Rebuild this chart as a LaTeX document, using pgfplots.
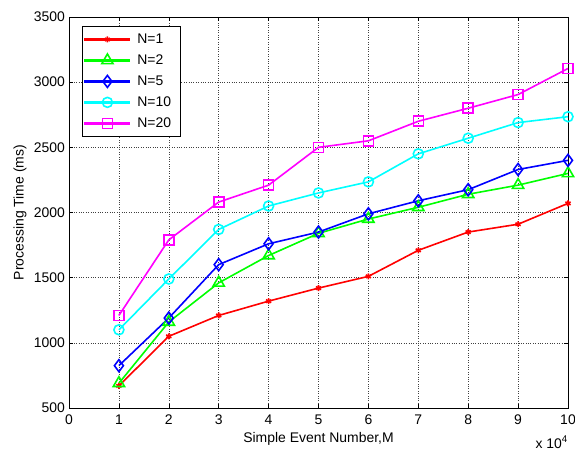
\documentclass[border=0pt]{standalone}
\usepackage{pgfplots}
\pgfplotsset{compat=1.18}
\usepackage{fontspec}
\setmainfont{Liberation Sans}
\definecolor{mred}{RGB}{255,0,0}
\definecolor{mgreen}{RGB}{0,255,0}
\definecolor{mblue}{RGB}{0,0,255}
\definecolor{mcyan}{RGB}{0,255,255}
\definecolor{mmag}{RGB}{255,0,255}
\begin{document}
\begin{tikzpicture}
\useasboundingbox (-69bp,-51bp) rectangle (506bp,408bp);
\begin{axis}[
  name=ax,
  at={(0,0)}, anchor=south west,
  scale only axis, width=499bp, height=391bp,
  xmin=0, xmax=10, ymin=500, ymax=3500,
  xtick={0,1,...,10}, ytick={500,1000,...,3500},
  tick align=inside, tick pos=both,
  major tick length=4bp,
  tick style={black, line width=0.6pt},
  grid=major, major grid style={dotted, black!75, line width=0.6pt},
  axis line style={black, line width=0.9pt},
  /pgf/number format/assume math mode=true,
  /pgf/number format/1000 sep={},
  tick label style={font=\fontsize{14}{16}\selectfont},
  label style={font=\fontsize{14}{16}\selectfont},
  xticklabel style={inner sep=0pt, yshift=-7bp},
  yticklabel style={inner sep=0pt, xshift=-4bp},
  xlabel={Simple Event Number,M},
  ylabel={Processing Time (ms)},
  xlabel style={inner sep=0pt, yshift=-7bp},
  ylabel style={inner sep=0pt, yshift=7bp},
  legend style={at={(rel axis cs:0.026,0.977)}, anchor=north west,
    font=\fontsize{14}{16}\selectfont, draw=black, line width=0.9pt,
    inner xsep=2bp, inner ysep=4.5bp, row sep=3.8bp,
    nodes={inner ysep=3bp, inner xsep=7bp}},
  legend cell align=left,
  legend image code/.code={
    \fill[draw=none] (0bp,-1.3bp) rectangle (46bp,1.3bp);
    \draw[line width=1.6bp] plot coordinates {(23bp,0bp)};
  },
  every axis plot/.append style={line width=1.6bp},
]
\addplot[mred, mark=asterisk, mark size=3bp, mark options={solid, line width=1.6bp}] coordinates {
(1,670)(2,1050)(3,1210)(4,1320)(5,1420)(6,1510)(7,1710)(8,1850)(9,1910)(10,2070)};
\addlegendentry{N=1}
\addplot[mgreen, mark=triangle, mark size=6.5bp, mark options={solid, line width=1.6bp}] coordinates {
(1,690)(2,1160)(3,1460)(4,1670)(5,1840)(6,1950)(7,2040)(8,2140)(9,2210)(10,2300)};
\addlegendentry{N=2}
\addplot[mblue, mark=diamond, mark size=6bp, mark options={solid, line width=1.6bp}] coordinates {
(1,825)(2,1190)(3,1600)(4,1760)(5,1850)(6,1990)(7,2090)(8,2175)(9,2330)(10,2400)};
\addlegendentry{N=5}
\addplot[mcyan, mark=o, mark size=5bp, mark options={solid, line width=1.6bp}] coordinates {
(1,1100)(2,1490)(3,1870)(4,2050)(5,2150)(6,2235)(7,2450)(8,2570)(9,2690)(10,2735)};
\addlegendentry{N=10}
\addplot[mmag, mark=square, mark size=5bp, mark options={solid, line width=1.6bp}] coordinates {
(1,1210)(2,1790)(3,2080)(4,2210)(5,2500)(6,2550)(7,2700)(8,2800)(9,2905)(10,3105)};
\addlegendentry{N=20}
\end{axis}
\node[anchor=north east, font=\fontsize{14}{16}\selectfont, inner sep=0pt] at ([yshift=-28bp]ax.south east) {x 10\textsuperscript{4}};
\end{tikzpicture}
\end{document}
